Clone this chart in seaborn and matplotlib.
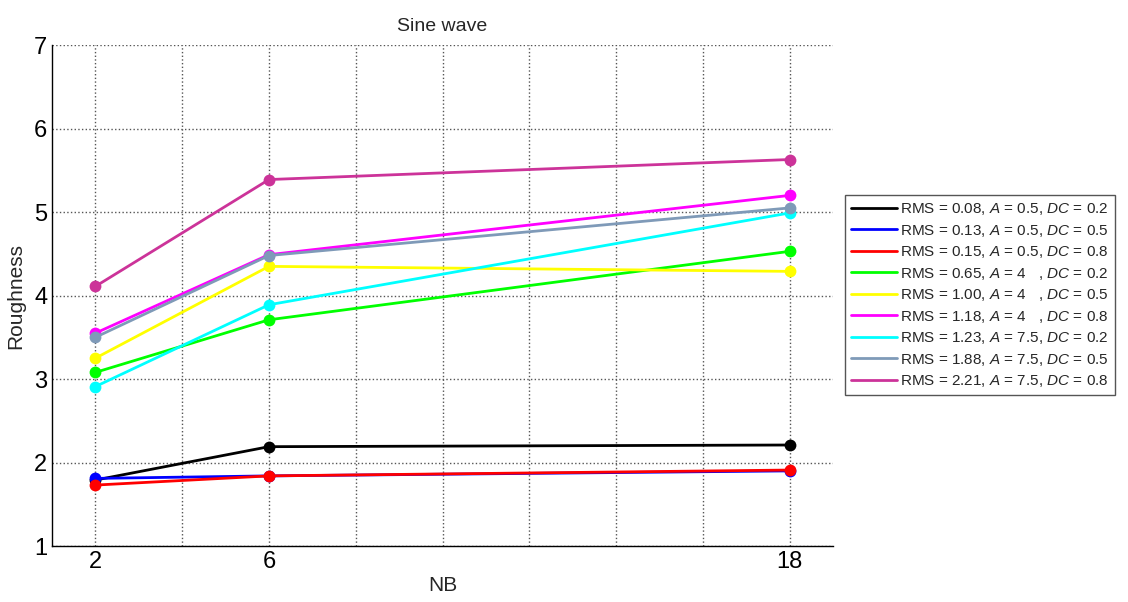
import numpy as np
import pandas as pd
import matplotlib
matplotlib.use("Agg")
import matplotlib.pyplot as plt
from matplotlib.lines import Line2D
import seaborn as sns

nb = [2, 6, 18]
labels = [
    r"RMS = 0.08, $\mathit{A}$ = 0.5, $\mathit{DC}$ = 0.2",
    r"RMS = 0.13, $\mathit{A}$ = 0.5, $\mathit{DC}$ = 0.5",
    r"RMS = 0.15, $\mathit{A}$ = 0.5, $\mathit{DC}$ = 0.8",
    r"RMS = 0.65, $\mathit{A}$ = 4   , $\mathit{DC}$ = 0.2",
    r"RMS = 1.00, $\mathit{A}$ = 4   , $\mathit{DC}$ = 0.5",
    r"RMS = 1.18, $\mathit{A}$ = 4   , $\mathit{DC}$ = 0.8",
    r"RMS = 1.23, $\mathit{A}$ = 7.5, $\mathit{DC}$ = 0.2",
    r"RMS = 1.88, $\mathit{A}$ = 7.5, $\mathit{DC}$ = 0.5",
    r"RMS = 2.21, $\mathit{A}$ = 7.5, $\mathit{DC}$ = 0.8",
]
s1 = [1.79, 2.19, 2.21]
s2 = [1.81, 1.84, 1.90]
s3 = [1.73, 1.84, 1.91]
s4 = [3.08, 3.71, 4.53]
s5 = [3.25, 4.35, 4.29]
s6 = [3.55, 4.49, 5.20]
s7 = [2.91, 3.89, 4.99]
s8 = [3.50, 4.48, 5.05]
s9 = [4.11, 5.39, 5.63]
series = [s1, s2, s3, s4, s5, s6, s7, s8, s9]
colors = ["#000000", "#0000FF", "#FF0000", "#00FF00", "#FFFF00",
          "#FF00FF", "#00FFFF", "#7F9AB8", "#CC3399"]
xticks = [2, 4, 6, 8, 10, 12, 14, 16, 18]
xticklabels = ["2", "", "6", "", "", "", "", "", "18"]
yticks = [1, 2, 3, 4, 5, 6, 7]

rows = []
for lab, vals in zip(labels, series):
    for x, y in zip(nb, vals):
        rows.append({"NB": x, "Roughness": y, "series": lab})
df = pd.DataFrame(rows)

sns.set_style("white")
plt.rcParams["font.family"] = ["Liberation Sans", "DejaVu Sans"]
plt.rcParams["mathtext.fontset"] = "custom"
plt.rcParams["mathtext.it"] = "Liberation Sans:italic"
plt.rcParams["mathtext.rm"] = "Liberation Sans"

fig = plt.figure(figsize=(11.28, 6.02), dpi=100)
ax = fig.add_axes([0.0461, 0.093, 0.6924, 0.832])

sns.lineplot(data=df, x="NB", y="Roughness", hue="series", hue_order=labels,
             palette=dict(zip(labels, colors)), marker="o", markersize=8.5,
             markeredgewidth=0, linewidth=2, legend=False, ax=ax)

ax.set_xlim(1, 19)
ax.set_ylim(1, 7)
ax.set_xticks(xticks)
ax.set_xticklabels(xticklabels)
ax.set_yticks(yticks)
ax.tick_params(direction="in", length=5, width=1, labelsize=17,
               color="#333333", labelcolor="black")
ax.grid(True, linestyle=":", color="#555555", linewidth=1)
for sp in ["top", "right"]:
    ax.spines[sp].set_visible(False)
for sp in ["left", "bottom"]:
    ax.spines[sp].set_color("black")
    ax.spines[sp].set_linewidth(1)

ax.set_title("Sine wave", fontsize=14, pad=10)
ax.set_xlabel("NB", fontsize=15, labelpad=2)
ax.set_ylabel("Roughness", fontsize=15, labelpad=6)

handles = [Line2D([0], [0], color=c, linewidth=2) for c in colors]
leg = fig.legend(handles, labels, loc="upper left",
                 bbox_to_anchor=(845 / 1128, 1 - 195 / 602),
                 fontsize=11, frameon=True, fancybox=False,
                 edgecolor="#555555", handlelength=3.0, handletextpad=0.2,
                 borderaxespad=0, labelspacing=0.36, borderpad=0.4,
                 framealpha=1)
leg.get_frame().set_linewidth(1)

fig.savefig("out.png", dpi=100)
